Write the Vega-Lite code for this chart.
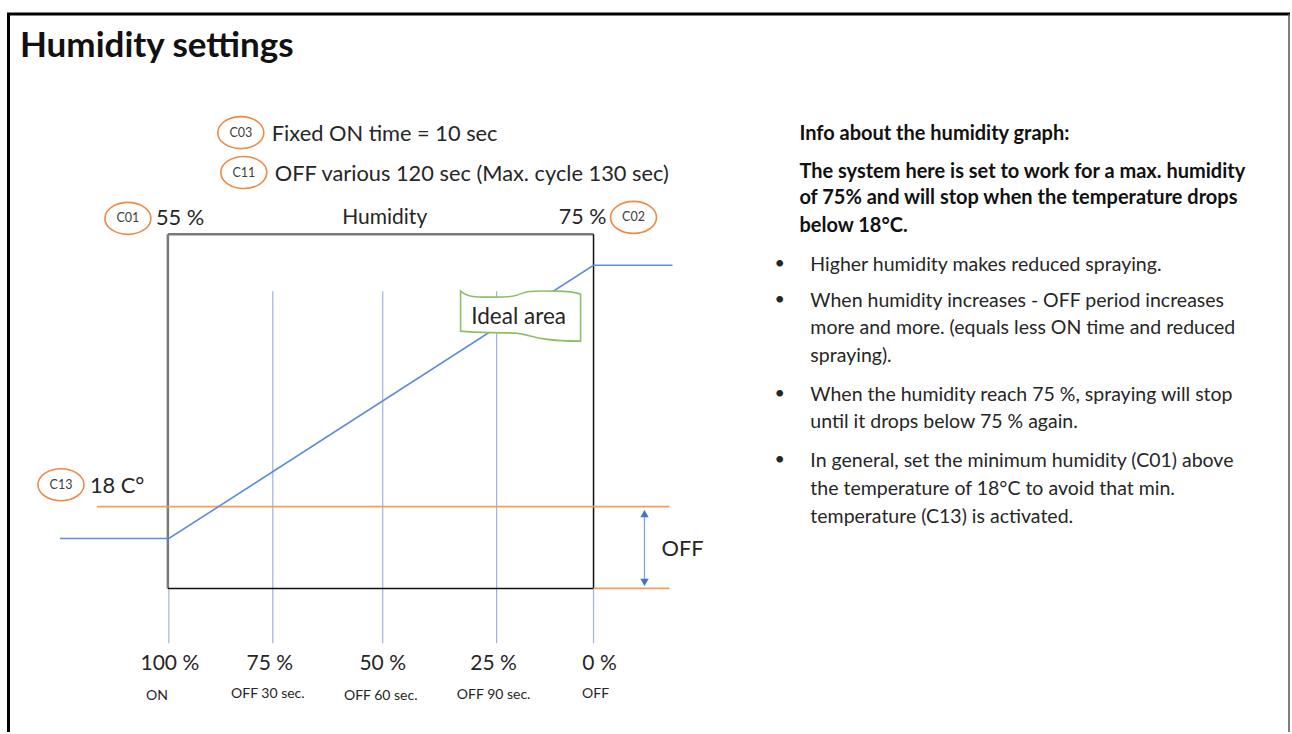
{
  "$schema": "https://vega.github.io/schema/vega-lite/v6.json",
  "width": 1292,
  "height": 734,
  "padding": 0,
  "autosize": {"type": "fit", "contains": "padding"},
  "background": "white",
  "config": {"view": {"stroke": null}, "font": "Lato", "text": {"font": "Lato"}},
  "datasets": {
    "frameBlack": [
      {"x": 7, "y": 14, "x2": 1291, "y2": 14},
      {"x": 8.5, "y": 14, "x2": 8.5, "y2": 734}
    ],
    "frameGray": [
      {"x": 1290, "y": 14, "x2": 1290, "y2": 734}
    ],
    "boxGray": [
      {"x": 168, "y": 235, "x2": 594, "y2": 235},
      {"x": 168, "y": 235, "x2": 168, "y2": 590}
    ],
    "boxBlack": [
      {"x": 594, "y": 235, "x2": 594, "y2": 590},
      {"x": 168, "y": 590, "x2": 594, "y2": 590}
    ],
    "gridBlue": [
      {"x": 273, "y": 292, "x2": 273, "y2": 645},
      {"x": 383, "y": 292, "x2": 383, "y2": 645},
      {"x": 497, "y": 292, "x2": 497, "y2": 645},
      {"x": 169, "y": 591, "x2": 169, "y2": 645},
      {"x": 594, "y": 591, "x2": 594, "y2": 645}
    ],
    "orangeLines": [
      {"x": 97, "y": 508, "x2": 670, "y2": 508},
      {"x": 594, "y": 590, "x2": 670, "y2": 590}
    ],
    "curve": [
      {"x": 60, "y": 540},
      {"x": 169, "y": 540},
      {"x": 594, "y": 266},
      {"x": 673, "y": 266}
    ],
    "arrowShaft": [
      {"x": 645, "y": 512, "x2": 645, "y2": 587}
    ],
    "arrowHeads": [
      {"x": 645, "y": 515, "dir": "up"},
      {"x": 645, "y": 584, "dir": "down"}
    ],
    "banner": [
      {"x": 521, "y": 317}
    ],
    "ovals": [
      {"x": 241, "y": 133, "text": "C03"},
      {"x": 244, "y": 173, "text": "C11"},
      {"x": 128, "y": 219, "text": "C01"},
      {"x": 634, "y": 218, "text": "C02"},
      {"x": 61, "y": 486, "text": "C13"}
    ],
    "title": [
      {"x": 20, "y": 57, "text": "Humidity settings"}
    ],
    "labelsLeft": [
      {"x": 272, "y": 134, "text": "Fixed ON time = 10 sec"},
      {"x": 275, "y": 174, "text": "OFF various 120 sec (Max. cycle 130 sec)"},
      {"x": 156, "y": 219, "text": "55 %"},
      {"x": 90, "y": 487, "text": "18 C°"},
      {"x": 662, "y": 551, "text": "OFF"}
    ],
    "labelsCenter": [
      {"x": 385, "y": 219, "text": "Humidity"},
      {"x": 170, "y": 666, "text": "100 %"},
      {"x": 270, "y": 666, "text": "75 %"},
      {"x": 383, "y": 666, "text": "50 %"},
      {"x": 494, "y": 666, "text": "25 %"},
      {"x": 600, "y": 666, "text": "0 %"}
    ],
    "labelsRight": [
      {"x": 607, "y": 219, "text": "75 %"}
    ],
    "smallLabels": [
      {"x": 157, "y": 698, "text": "ON"},
      {"x": 268, "y": 696, "text": "OFF 30 sec."},
      {"x": 381, "y": 698, "text": "OFF 60 sec."},
      {"x": 494, "y": 697, "text": "OFF 90 sec."},
      {"x": 596, "y": 696, "text": "OFF"}
    ],
    "bannerText": [
      {"x": 519, "y": 318, "text": "Ideal area"}
    ],
    "infoBold": [
      {"x": 800, "y": 134, "text": "Info about the humidity graph:"},
      {"x": 800, "y": 172, "text": "The system here is set to work for a max. humidity"},
      {"x": 800, "y": 199, "text": "of 75% and will stop when the temperature drops"},
      {"x": 800, "y": 227, "text": "below 18°C."}
    ],
    "bullets": [
      {"x": 775, "y": 265, "text": "•"},
      {"x": 775, "y": 301, "text": "•"},
      {"x": 775, "y": 395, "text": "•"},
      {"x": 775, "y": 461, "text": "•"}
    ],
    "infoBody": [
      {"x": 811, "y": 266, "text": "Higher humidity makes reduced spraying."},
      {"x": 811, "y": 302, "text": "When humidity increases - OFF period increases"},
      {"x": 811, "y": 329, "text": "more and more. (equals less ON time and reduced"},
      {"x": 811, "y": 357, "text": "spraying)."},
      {"x": 811, "y": 396, "text": "When the humidity reach 75 %, spraying will stop"},
      {"x": 811, "y": 423, "text": "until it drops below 75 % again."},
      {"x": 811, "y": 462, "text": "In general, set the minimum humidity (C01) above"},
      {"x": 811, "y": 490, "text": "the temperature of 18°C to avoid that min."},
      {"x": 811, "y": 518, "text": "temperature (C13) is activated."}
    ]
  },
  "encoding": {
    "x": {"field": "x", "type": "quantitative", "scale": {"domain": [0, 1292], "nice": false, "zero": false}, "axis": null},
    "y": {"field": "y", "type": "quantitative", "scale": {"domain": [0, 734], "reverse": true, "nice": false, "zero": false}, "axis": null}
  },
  "layer": [
    {"data": {"name": "frameBlack"}, "mark": {"type": "rule", "color": "#000000", "strokeWidth": 3}, "encoding": {"x2": {"field": "x2"}, "y2": {"field": "y2"}}},
    {"data": {"name": "frameGray"}, "mark": {"type": "rule", "color": "#555555", "strokeWidth": 1.5}, "encoding": {"x2": {"field": "x2"}, "y2": {"field": "y2"}}},
    {"data": {"name": "gridBlue"}, "mark": {"type": "rule", "color": "#9db4e0", "strokeWidth": 1.2}, "encoding": {"x2": {"field": "x2"}, "y2": {"field": "y2"}}},
    {"data": {"name": "boxGray"}, "mark": {"type": "rule", "color": "#7a7a7a", "strokeWidth": 2.5}, "encoding": {"x2": {"field": "x2"}, "y2": {"field": "y2"}}},
    {"data": {"name": "boxBlack"}, "mark": {"type": "rule", "color": "#111111", "strokeWidth": 1.5}, "encoding": {"x2": {"field": "x2"}, "y2": {"field": "y2"}}},
    {"data": {"name": "orangeLines"}, "mark": {"type": "rule", "color": "#f39c5e", "strokeWidth": 1.6}, "encoding": {"x2": {"field": "x2"}, "y2": {"field": "y2"}}},
    {"data": {"name": "curve"}, "mark": {"type": "line", "color": "#5b8dd9", "strokeWidth": 1.6}},
    {"data": {"name": "arrowShaft"}, "mark": {"type": "rule", "color": "#7fa3e0", "strokeWidth": 1.3}, "encoding": {"x2": {"field": "x2"}, "y2": {"field": "y2"}}},
    {"data": {"name": "arrowHeads"}, "mark": {"type": "point", "filled": true, "color": "#4472c4", "size": 70, "opacity": 1},
      "encoding": {"shape": {"field": "dir", "type": "nominal", "scale": {"domain": ["up", "down"], "range": ["triangle-up", "triangle-down"]}, "legend": null}}},
    {"data": {"name": "banner"}, "mark": {"type": "point", "size": 4, "filled": true, "fill": "white", "stroke": "#8cc068", "strokeWidth": 1.6, "opacity": 1, "fillOpacity": 1,
      "shape": "M-60,-25 C-52,-18 -42,-19 -25,-19 C-10,-19 -5,-20 2,-23 C8,-26 20,-25 35,-25 C48,-25 55,-24 60,-22 L60,25 C50,25 38,25 25,23 C12,21 5,18 -5,17 C-25,16 -45,17 -60,15 Z"}},
    {"data": {"name": "ovals"}, "mark": {"type": "point", "size": 4, "filled": true, "fill": "white", "stroke": "#ef8a45", "strokeWidth": 1.6, "opacity": 1, "fillOpacity": 1,
      "shape": "M-23,0 A23,16 0 1,1 23,0 A23,16 0 1,1 -23,0 Z"}},
    {"data": {"name": "ovals"}, "mark": {"type": "text", "fontSize": 12.5, "color": "#404040", "align": "center", "baseline": "middle"}, "encoding": {"text": {"field": "text"}}},
    {"data": {"name": "title"}, "mark": {"type": "text", "fontSize": 35, "fontWeight": "bold", "color": "#111111", "align": "left", "baseline": "alphabetic"}, "encoding": {"text": {"field": "text"}}},
    {"data": {"name": "labelsLeft"}, "mark": {"type": "text", "fontSize": 21.8, "color": "#262626", "align": "left", "baseline": "middle"}, "encoding": {"text": {"field": "text"}}},
    {"data": {"name": "labelsCenter"}, "mark": {"type": "text", "fontSize": 21, "color": "#262626", "align": "center", "baseline": "middle"}, "encoding": {"text": {"field": "text"}}},
    {"data": {"name": "labelsRight"}, "mark": {"type": "text", "fontSize": 21.5, "color": "#262626", "align": "right", "baseline": "middle"}, "encoding": {"text": {"field": "text"}}},
    {"data": {"name": "smallLabels"}, "mark": {"type": "text", "fontSize": 14, "color": "#262626", "align": "center", "baseline": "middle"}, "encoding": {"text": {"field": "text"}}},
    {"data": {"name": "bannerText"}, "mark": {"type": "text", "fontSize": 22.5, "color": "#262626", "align": "center", "baseline": "middle"}, "encoding": {"text": {"field": "text"}}},
    {"data": {"name": "infoBold"}, "mark": {"type": "text", "fontSize": 20, "fontWeight": "bold", "color": "#111111", "align": "left", "baseline": "middle"}, "encoding": {"text": {"field": "text"}}},
    {"data": {"name": "bullets"}, "mark": {"type": "text", "fontSize": 18, "color": "#262626", "align": "left", "baseline": "middle"}, "encoding": {"text": {"field": "text"}}},
    {"data": {"name": "infoBody"}, "mark": {"type": "text", "fontSize": 19.5, "color": "#262626", "align": "left", "baseline": "middle"}, "encoding": {"text": {"field": "text"}}}
  ]
}
